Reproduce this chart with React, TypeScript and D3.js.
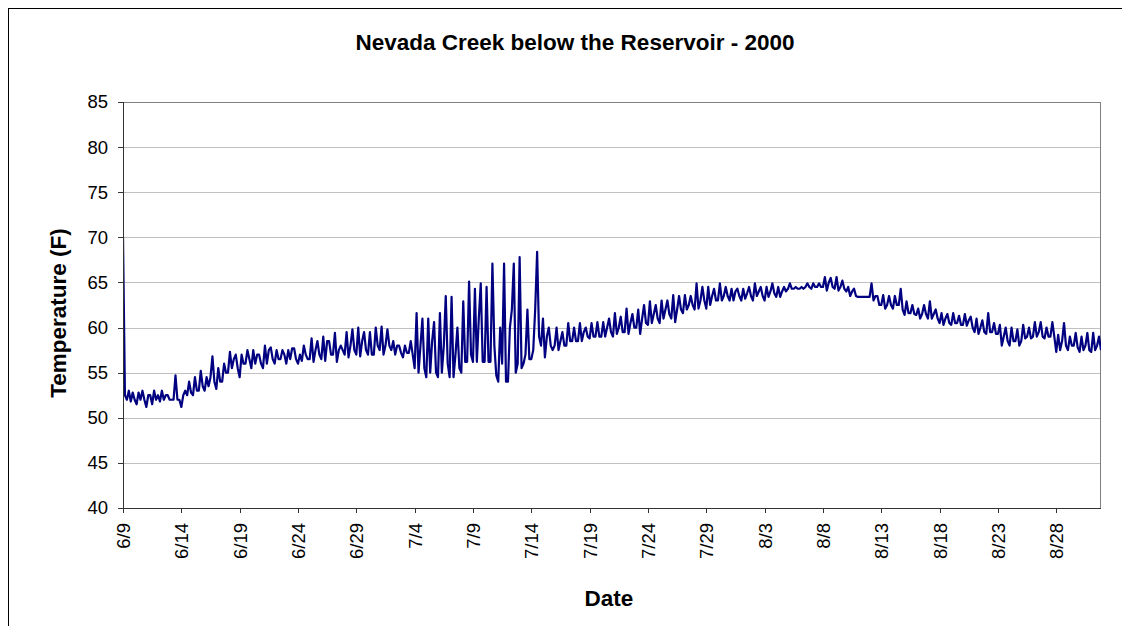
import React from "react";
import * as d3 from "d3";

// Water temperature (°F), six readings per day (00h, 04h, 08h, 12h, 16h, 20h)
const juneTemps: number[] = [
  70, 52.5, 52, 53, 51.8, 52.8, // 6/9
  52, 51.5, 52.8, 52, 53, 52,
  51.2, 52.5, 52.5, 51.5, 53, 52,
  52.5, 51.8, 53, 52, 52.5, 52.5,
  52, 52, 52, 54.7, 52, 52,
  51.2, 52.5, 53, 52.5, 54, 52.8, // 6/14
  52.5, 54.5, 53, 53, 55.2, 53.5,
  53, 54.5, 53.5, 54.5, 56.8, 54,
  53.2, 55.5, 54, 54, 56, 55,
  55, 57.3, 55.5, 56.5, 57, 55.5,
  54.5, 57, 56, 56, 57.5, 56.5, // 6/19
  55.5, 57.5, 56, 57, 57, 56,
  55.5, 58, 56, 57.5, 57.8, 56.5,
  56, 57.5, 56.5, 56.5, 57.5, 57,
  56, 57.5, 56.5, 57.7, 57.7, 56.5,
  56, 57, 56.3, 58, 57, 56.5, // 6/24
  56.5, 58.8, 56.2, 57.5, 58.5, 57,
  56.5, 59, 56.3, 58.5, 58.5, 57,
  57, 59.4, 56.2, 57.5, 58, 57.5,
  57, 59.5, 56.7, 58, 59.8, 57.5,
  57, 60, 56.8, 58.5, 59.5, 57.5, // 6/29
  57, 59.5, 57, 57, 60, 58,
];

const julyTemps: number[] = [
  57.5, 60.1, 57, 58, 59.8, 58, // 7/1
  57.5, 58.5, 57, 58, 58, 57.2,
  56.7, 58, 57.2, 57.2, 58.5, 57,
  55.5, 61.6, 55, 58, 61, 55.5, // 7/4
  54.5, 61, 55, 58.5, 60.6, 55,
  54.5, 61.6, 55, 58, 63.5, 56,
  54.5, 63.4, 54.5, 57, 60, 55.5,
  55, 62.9, 56.2, 56.2, 65.1, 57,
  56.2, 64.3, 56.2, 61, 64.9, 56.2, // 7/9
  56.2, 64.5, 56.2, 56.2, 67.1, 58,
  54.7, 54, 60, 56, 67.1, 54,
  54, 60, 62, 67.1, 55, 56,
  67.8, 55.5, 56, 57, 62, 56.5,
  56.5, 57.5, 62, 68.4, 59, 58, // 7/14
  61, 56.7, 59, 60, 58, 57.5,
  58, 60, 57.5, 58.5, 59.5, 58,
  58, 60.5, 58.5, 58.5, 60, 58.5,
  58.5, 60.5, 58.5, 59.5, 60, 59,
  58.8, 60.5, 59, 59, 60.6, 59, // 7/19
  59, 60.6, 59, 60, 61, 59.5,
  59, 61.6, 59.3, 60, 61.2, 59.5,
  59.5, 62.1, 59.3, 60.5, 61.5, 60,
  60, 62, 59.3, 61, 62.5, 60.5,
  60.3, 62.9, 60.5, 61.5, 62.5, 61, // 7/24
  60.5, 63, 61, 62, 63, 61.5,
  61, 63.6, 60.6, 62, 63.5, 62,
  61.6, 63.6, 62, 62.5, 63.5, 62.5,
  62, 64.9, 62.1, 63, 64.5, 63,
  62.1, 64.5, 62.5, 63.5, 64.3, 63, // 7/29
  63, 64.9, 63, 63.5, 64.5, 63.5,
  63, 64.3, 63, 64, 64.3, 63.5,
];

const augustTemps: number[] = [
  63, 64.3, 63.2, 63.8, 64.5, 63.5, // 8/1
  63, 64.9, 63.5, 64, 64.5, 63.5,
  63, 64.5, 63.4, 64, 64.9, 63.8, // 8/3
  63.4, 64.5, 63.4, 64, 64.5, 64,
  64.3, 64.9, 64.3, 64.3, 64.5, 64.3,
  64.3, 64.5, 64.3, 64.5, 64.9, 64.5,
  64.3, 64.9, 64.5, 64.5, 64.9, 64.5,
  64.5, 65.6, 64.1, 65, 65.5, 64.5, // 8/8
  64.3, 65.6, 64.1, 64.5, 65.2, 64.3,
  64, 64.5, 63.5, 64, 64.3, 63.5,
  63.4, 63.4, 63.4, 63.4, 63.4, 63.4,
  63.4, 64.9, 63, 63.5, 63.5, 62.5,
  62.5, 63.6, 62.1, 62.5, 63.5, 62.5, // 8/13
  62.1, 63.5, 62.5, 62.5, 64.3, 62,
  61.4, 62.9, 61.6, 61.6, 62.5, 61.5,
  61.4, 62.1, 61, 61.5, 62.5, 61.5,
  61, 62.9, 61, 61.5, 62, 61,
  60.5, 61.6, 60.3, 61, 61.5, 60.5, // 8/18
  60.3, 61.6, 60.5, 60.5, 61.3, 60.3,
  60.3, 61.5, 60.2, 60.8, 61.2, 60,
  59.5, 61, 59.3, 60, 60.8, 59.5,
  59.3, 61.6, 59.5, 59.5, 60.5, 59.3,
  59.3, 60.3, 58, 59, 60, 58.5, // 8/23
  58, 60, 58.5, 58.5, 59.8, 58,
  58.5, 60.3, 58.8, 59, 60, 58.8,
  59, 60.6, 59, 59.5, 60.6, 59,
  58.8, 60, 59, 59, 60.6, 59,
  57.3, 59.2, 57.5, 58.5, 60.5, 58, // 8/28
  57.5, 59, 58, 58, 59.4, 57.8,
  57.3, 59, 57.5, 58, 59.4, 57.5,
  57.3, 59.4, 57.5, 58, 59, 57.5,
];

const yTicks: number[] = [40, 45, 50, 55, 60, 65, 70, 75, 80, 85];
const xTickLabels: string[] = [
  "6/9", "6/14", "6/19", "6/24", "6/29", "7/4", "7/9", "7/14", "7/19",
  "7/24", "7/29", "8/3", "8/8", "8/13", "8/18", "8/23", "8/28",
];

const START = new Date(2000, 5, 9, 0, 0);
const END = new Date(2000, 7, 31, 18, 0);
const READINGS_PER_DAY = 6;

function parseTick(label: string): Date {
  const [m, d] = label.split("/").map(Number);
  return new Date(2000, m - 1, d);
}

export default function App() {
  const W = 1114;
  const H = 618;
  const left = 123, right = 1100, top = 102, bottom = 508;

  const temps = [...juneTemps, ...julyTemps, ...augustTemps];
  const data = temps.map((v, i) => ({
    t: d3.timeHour.offset(START, (i * 24) / READINGS_PER_DAY),
    v,
  }));

  const x = d3.scaleTime().domain([START, END]).range([left, right]);
  const y = d3.scaleLinear().domain([40, 85]).range([bottom, top]);

  const line = d3
    .line<{ t: Date; v: number }>()
    .x((d) => x(d.t))
    .y((d) => y(d.v));

  const font = "'Liberation Sans', Arial, sans-serif";

  return (
    <svg width={W} height={H} style={{ display: "block" }}>
      <g transform="translate(-8,-8)">
        <rect x={0} y={0} width={2000} height={2000} fill="#ffffff" />
        <rect x={8.5} y={8.5} width={1400} height={1000} fill="none" stroke="#000" strokeWidth={1} />
        {/* gridlines */}
        {yTicks.map((t) => (
          <line key={"g" + t} x1={left} x2={right} y1={Math.round(y(t)) + 0.5} y2={Math.round(y(t)) + 0.5}
            stroke="#c0c0c0" strokeWidth={1} />
        ))}
        {/* plot border (top/right) */}
        <line x1={left} x2={right + 0.5} y1={top + 0.5} y2={top + 0.5} stroke="#808080" strokeWidth={1} />
        <line x1={right + 0.5} x2={right + 0.5} y1={top} y2={bottom} stroke="#808080" strokeWidth={1} />
        {/* data line */}
        <clipPath id="plotClip">
          <rect x={left} y={top} width={right - left + 1} height={bottom - top} />
        </clipPath>
        <path d={line(data) || ""} fill="none" stroke="#000080" strokeWidth={2.2} strokeLinejoin="round"
          clipPath="url(#plotClip)" />
        {/* axes */}
        <line x1={left + 0.5} x2={left + 0.5} y1={top} y2={bottom} stroke="#333" strokeWidth={1} />
        <line x1={left} x2={right + 1} y1={bottom + 0.5} y2={bottom + 0.5} stroke="#333" strokeWidth={1} />
        {yTicks.map((t) => (
          <g key={"y" + t}>
            <line x1={left - 5} x2={left} y1={Math.round(y(t)) + 0.5} y2={Math.round(y(t)) + 0.5} stroke="#333" />
            <text x={108} y={y(t)} dy="0.35em" textAnchor="end" fontFamily={font} fontSize={18.5} fill="#000">
              {t}
            </text>
          </g>
        ))}
        {xTickLabels.map((lab) => {
          const px = Math.round(x(parseTick(lab))) + 0.5;
          return (
            <g key={"x" + lab}>
              <line x1={px} x2={px} y1={bottom} y2={bottom + 5} stroke="#333" />
              <text transform={`translate(${px},${523}) rotate(-90)`} dy="0.35em" textAnchor="end"
                fontFamily={font} fontSize={18.5} fill="#000">
                {lab}
              </text>
            </g>
          );
        })}
        {/* titles */}
        <text x={575} y={50} textAnchor="middle" fontFamily={font} fontSize={22.5} fontWeight="bold">
          Nevada Creek below the Reservoir - 2000
        </text>
        <text x={609} y={606} textAnchor="middle" fontFamily={font} fontSize={22.5} fontWeight="bold">
          Date
        </text>
        <text transform={`translate(66,${313}) rotate(-90)`} textAnchor="middle" fontFamily={font} fontSize={22.5}
          fontWeight="bold">
          Temperature (F)
        </text>
      </g>
    </svg>
  );
}
